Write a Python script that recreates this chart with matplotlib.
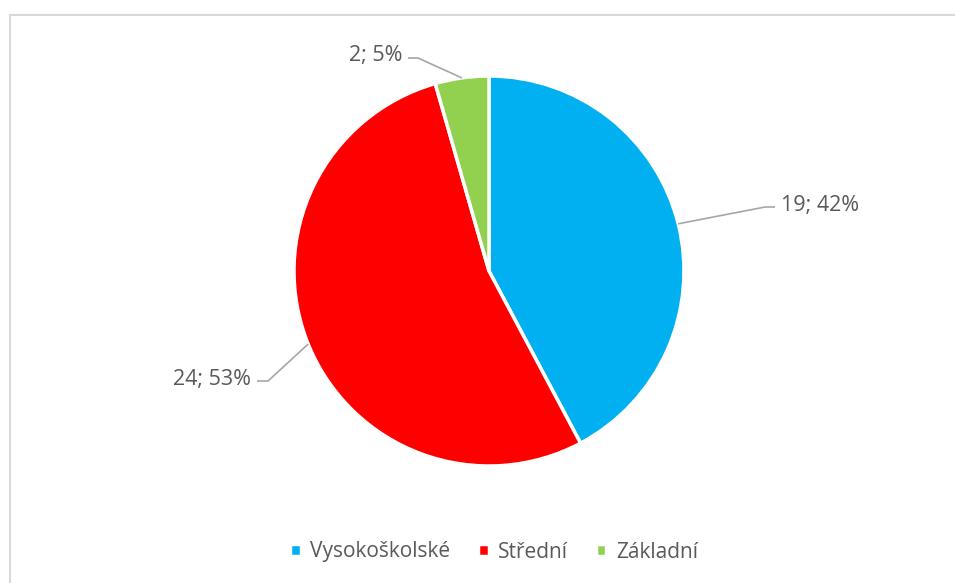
import numpy as np
import matplotlib
matplotlib.use("Agg")
import matplotlib.pyplot as plt
from matplotlib.patches import Rectangle

categories = ["Vysokoškolské", "Střední", "Základní"]
counts = [19, 24, 2]
percents = [42, 53, 5]
colors = ["#00B0F0", "#FF0000", "#92D050"]

plt.rcParams["font.family"] = ["Open Sans", "DejaVu Sans"]
TXT = "#595959"

W, H = 955, 583
fig = plt.figure(figsize=(W / 100, H / 100), dpi=100)
ax = fig.add_axes([0, 0, 1, 1])
ax.set_aspect("equal")
ax.axis("off")

# chart frame (right/bottom edges run off the picture)
fig.patches.append(Rectangle((9.5 / W, -0.05), 1.1, (H - 14.5) / H + 0.05,
                             transform=fig.transFigure, fill=False,
                             edgecolor="#D9D9D9", linewidth=1.5))

cx, cy, r = 489, 312, 195
wedges, _ = ax.pie(counts, colors=colors, startangle=90, counterclock=False,
                   center=(cx, cy), radius=r,
                   wedgeprops=dict(edgecolor="white", linewidth=2.5))
ax.set_xlim(0, W)
ax.set_ylim(0, H)

# label elbows / line ends
elbows = [(765, 376), (268, 202), (418, 525)]
ends = [(775, 376), (257, 202), (408, 525)]
for w, c, p, (ex, ey), (tx, ty) in zip(wedges, counts, percents, elbows, ends):
    mid = np.deg2rad((w.theta1 + w.theta2) / 2)
    px, py = cx + r * np.cos(mid), cy + r * np.sin(mid)
    ax.plot([px, ex, tx], [py, ey, ty], color="#A6A6A6", lw=1.2,
            solid_capstyle="butt")
    right = tx > ex
    ax.text(tx + (6 if right else -6), ty + 2, f"{c}; {p}%",
            ha="left" if right else "right", va="center",
            fontsize=15.5, color=TXT)

ax.legend(wedges, categories, loc="center", bbox_to_anchor=(494 / W, 31 / H),
          ncol=3, frameon=False, fontsize=15, labelcolor=TXT,
          handlelength=0.5, handleheight=0.5, handletextpad=0.45,
          columnspacing=1.35)

fig.savefig("out.png", dpi=100)
